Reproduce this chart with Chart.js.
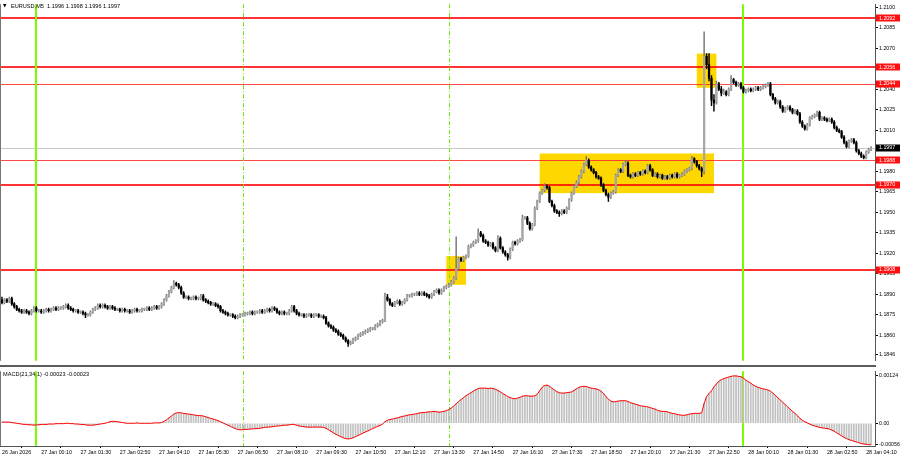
<!DOCTYPE html>
<html>
<head>
<meta charset="utf-8">
<script src="https://cdn.jsdelivr.net/npm/chart.js@4.4.1/dist/chart.umd.min.js"></script>
<style>
  html, body { margin: 0; padding: 0; background: #fff; }
  #wrap { position: relative; width: 900px; height: 460px; overflow: hidden; }
  #price { position: absolute; left: 0; top: 0; }
  #sep { position: absolute; left: 0; top: 365px; width: 876px; height: 2px; background: #5a5a5a; }
  #macd { position: absolute; left: 0; top: 367px; }
</style>
</head>
<body>
<div id="wrap">
  <canvas id="price" width="900" height="365"></canvas>
  <div id="sep"></div>
  <canvas id="macd" width="900" height="93"></canvas>
</div>
<script>
// EURUSD M5 candles (first candle 26 Jan 22:50)
const opens = [
1.1886,1.1884,1.1886,1.1885,1.1887,1.1883,1.1881,1.1879,1.1878,1.1877,
1.1878,1.1877,1.1876,1.1878,1.1880,1.1878,1.1878,1.1877,1.1878,1.1879,
1.1878,1.1879,1.1880,1.1879,1.1880,1.1880,1.1881,1.1882,1.1880,1.1879,
1.1878,1.1878,1.1877,1.1877,1.1876,1.1875,1.1875,1.1877,1.1879,1.1880,
1.1882,1.1881,1.1882,1.1881,1.1880,1.1881,1.1880,1.1879,1.1879,1.1878,
1.1879,1.1878,1.1878,1.1877,1.1878,1.1879,1.1878,1.1878,1.1879,1.1879,
1.1880,1.1879,1.1880,1.1881,1.1880,1.1881,1.1883,1.1886,1.1889,1.1892,
1.1895,1.1898,1.1897,1.1895,1.1891,1.1888,1.1888,1.1887,1.1887,1.1888,
1.1887,1.1887,1.1889,1.1886,1.1885,1.1884,1.1883,1.1883,1.1882,1.1881,
1.1878,1.1877,1.1876,1.1875,1.1875,1.1874,1.1873,1.1874,1.1875,1.1875,
1.1876,1.1876,1.1877,1.1876,1.1877,1.1877,1.1878,1.1877,1.1878,1.1879,
1.1878,1.1880,1.1879,1.1877,1.1876,1.1877,1.1876,1.1876,1.1878,1.1881,
1.1878,1.1876,1.1875,1.1875,1.1874,1.1875,1.1875,1.1874,1.1875,1.1875,
1.1874,1.1874,1.1873,1.1869,1.1867,1.1866,1.1864,1.1863,1.1861,1.1860,
1.1858,1.1856,1.1854,1.1855,1.1857,1.1858,1.1860,1.1861,1.1862,1.1863,
1.1864,1.1865,1.1865,1.1867,1.1868,1.1870,1.1871,1.1888,1.1886,1.1883,
1.1882,1.1884,1.1885,1.1883,1.1884,1.1886,1.1889,1.1889,1.1890,1.1890,
1.1891,1.1890,1.1891,1.1890,1.1889,1.1888,1.1890,1.1892,1.1893,1.1891,
1.1893,1.1895,1.1896,1.1897,1.1899,1.1902,1.1909,1.1916,1.1915,1.1917,
1.1918,1.1925,1.1926,1.1928,1.1929,1.1935,1.1933,1.1929,1.1928,1.1926,
1.1927,1.1924,1.1922,1.1931,1.1924,1.1921,1.1919,1.1917,1.1923,1.1928,
1.1927,1.1929,1.1930,1.1946,1.1946,1.1942,1.1938,1.1941,1.1953,1.1958,
1.1964,1.1966,1.1969,1.1968,1.1958,1.1955,1.1951,1.1950,1.1949,1.1951,
1.1950,1.1953,1.1959,1.1964,1.1969,1.1972,1.1976,1.1980,1.1985,1.1988,
1.1983,1.1981,1.1979,1.1976,1.1975,1.1970,1.1966,1.1963,1.1961,1.1964,
1.1965,1.1977,1.1981,1.1980,1.1985,1.1986,1.1977,1.1976,1.1978,1.1977,
1.1979,1.1978,1.1980,1.1979,1.1984,1.1981,1.1977,1.1978,1.1976,1.1977,
1.1975,1.1976,1.1975,1.1977,1.1976,1.1978,1.1976,1.1977,1.1978,1.1980,
1.1981,1.1982,1.1989,1.1987,1.1984,1.1982,1.1980,1.2064,1.2058,1.2048,
1.2032,1.2030,1.2044,1.2040,1.2037,1.2038,1.2036,1.2040,1.2047,1.2045,
1.2043,1.2044,1.2041,1.2038,1.2039,1.2040,1.2039,1.2040,1.2041,1.2040,
1.2041,1.2042,1.2043,1.2044,1.2036,1.2033,1.2030,1.2031,1.2027,1.2024,
1.2026,1.2027,1.2025,1.2023,1.2024,1.2022,1.2016,1.2013,1.2011,1.2014,
1.2019,1.2020,1.2021,1.2023,1.2018,1.2019,1.2018,1.2017,1.2018,1.2016,
1.2012,1.2010,1.2009,1.2005,1.2001,1.1998,1.2002,1.2003,1.2001,1.1995,
1.1993,1.1991,1.1990,1.1994,1.1996
];
const highs = [
1.1888,1.1887,1.1887,1.1888,1.1888,1.1884,1.1882,1.1880,1.1879,1.1879,
1.1879,1.1878,1.1879,1.1881,1.1881,1.1879,1.1879,1.1879,1.1880,1.1880,
1.1880,1.1881,1.1881,1.1881,1.1881,1.1882,1.1883,1.1883,1.1881,1.1880,
1.1879,1.1879,1.1878,1.1878,1.1877,1.1876,1.1878,1.1880,1.1881,1.1883,
1.1883,1.1883,1.1883,1.1882,1.1882,1.1882,1.1881,1.1880,1.1880,1.1880,
1.1880,1.1879,1.1879,1.1879,1.1880,1.1880,1.1879,1.1880,1.1880,1.1881,
1.1881,1.1881,1.1882,1.1882,1.1882,1.1884,1.1887,1.1890,1.1893,1.1896,
1.1900,1.1899,1.1898,1.1896,1.1892,1.1889,1.1889,1.1888,1.1889,1.1889,
1.1888,1.1890,1.1890,1.1887,1.1886,1.1885,1.1884,1.1884,1.1883,1.1882,
1.1879,1.1878,1.1877,1.1876,1.1876,1.1875,1.1875,1.1876,1.1876,1.1877,
1.1877,1.1878,1.1878,1.1878,1.1878,1.1879,1.1879,1.1879,1.1880,1.1880,
1.1881,1.1881,1.1880,1.1878,1.1878,1.1878,1.1877,1.1879,1.1882,1.1882,
1.1879,1.1877,1.1876,1.1876,1.1876,1.1876,1.1876,1.1876,1.1876,1.1876,
1.1875,1.1875,1.1874,1.1870,1.1868,1.1867,1.1865,1.1864,1.1862,1.1861,
1.1859,1.1857,1.1856,1.1858,1.1859,1.1861,1.1862,1.1863,1.1864,1.1865,
1.1866,1.1866,1.1868,1.1869,1.1871,1.1872,1.1891,1.1890,1.1887,1.1884,
1.1885,1.1886,1.1886,1.1885,1.1887,1.1890,1.1890,1.1891,1.1891,1.1892,
1.1892,1.1892,1.1892,1.1891,1.1890,1.1891,1.1893,1.1894,1.1894,1.1894,
1.1896,1.1897,1.1898,1.1900,1.1903,1.1932,1.1917,1.1917,1.1918,1.1919,
1.1926,1.1927,1.1929,1.1930,1.1938,1.1936,1.1934,1.1930,1.1929,1.1928,
1.1928,1.1925,1.1933,1.1932,1.1925,1.1922,1.1920,1.1924,1.1929,1.1929,
1.1930,1.1931,1.1948,1.1947,1.1947,1.1943,1.1942,1.1954,1.1959,1.1965,
1.1967,1.1971,1.1970,1.1969,1.1959,1.1956,1.1952,1.1951,1.1952,1.1952,
1.1954,1.1960,1.1965,1.1970,1.1973,1.1977,1.1981,1.1986,1.1991,1.1989,
1.1984,1.1982,1.1980,1.1977,1.1976,1.1971,1.1967,1.1964,1.1965,1.1966,
1.1978,1.1982,1.1982,1.1986,1.1988,1.1987,1.1978,1.1979,1.1979,1.1980,
1.1980,1.1981,1.1981,1.1985,1.1985,1.1982,1.1979,1.1979,1.1978,1.1978,
1.1977,1.1977,1.1978,1.1978,1.1979,1.1979,1.1978,1.1979,1.1981,1.1982,
1.1983,1.1991,1.1990,1.1988,1.1985,1.1983,1.2082,1.2066,1.2066,1.2050,
1.2036,1.2046,1.2045,1.2042,1.2040,1.2039,1.2041,1.2050,1.2048,1.2046,
1.2045,1.2045,1.2042,1.2040,1.2041,1.2041,1.2041,1.2042,1.2042,1.2042,
1.2043,1.2044,1.2045,1.2045,1.2037,1.2034,1.2032,1.2032,1.2028,1.2027,
1.2028,1.2028,1.2026,1.2025,1.2025,1.2023,1.2017,1.2014,1.2015,1.2020,
1.2021,1.2022,1.2024,1.2024,1.2020,1.2020,1.2019,1.2019,1.2019,1.2017,
1.2013,1.2011,1.2010,1.2006,1.2002,1.2003,1.2004,1.2004,1.2002,1.1996,
1.1994,1.1992,1.1995,1.1997,1.1998
];
const lows = [
1.1883,1.1883,1.1884,1.1884,1.1882,1.1880,1.1878,1.1877,1.1876,1.1876,
1.1876,1.1875,1.1875,1.1877,1.1877,1.1877,1.1876,1.1876,1.1877,1.1877,
1.1877,1.1878,1.1878,1.1878,1.1879,1.1879,1.1880,1.1879,1.1878,1.1877,
1.1877,1.1876,1.1876,1.1875,1.1873,1.1874,1.1874,1.1876,1.1878,1.1879,
1.1880,1.1880,1.1880,1.1879,1.1879,1.1879,1.1878,1.1878,1.1877,1.1877,
1.1877,1.1877,1.1876,1.1876,1.1877,1.1877,1.1877,1.1877,1.1878,1.1878,
1.1878,1.1878,1.1879,1.1879,1.1879,1.1880,1.1882,1.1885,1.1888,1.1891,
1.1894,1.1896,1.1894,1.1890,1.1887,1.1887,1.1886,1.1886,1.1886,1.1886,
1.1886,1.1886,1.1885,1.1884,1.1883,1.1882,1.1882,1.1881,1.1880,1.1877,
1.1876,1.1875,1.1874,1.1874,1.1873,1.1872,1.1872,1.1873,1.1874,1.1874,
1.1875,1.1875,1.1875,1.1875,1.1876,1.1876,1.1876,1.1876,1.1877,1.1877,
1.1877,1.1878,1.1876,1.1875,1.1875,1.1875,1.1875,1.1875,1.1877,1.1877,
1.1875,1.1874,1.1874,1.1873,1.1873,1.1874,1.1873,1.1873,1.1874,1.1873,
1.1873,1.1872,1.1868,1.1866,1.1865,1.1863,1.1862,1.1860,1.1859,1.1857,
1.1855,1.1852,1.1853,1.1854,1.1856,1.1857,1.1859,1.1860,1.1861,1.1862,
1.1863,1.1864,1.1864,1.1866,1.1867,1.1869,1.1870,1.1885,1.1882,1.1881,
1.1881,1.1883,1.1882,1.1882,1.1883,1.1885,1.1888,1.1888,1.1889,1.1889,
1.1889,1.1889,1.1889,1.1888,1.1887,1.1887,1.1889,1.1891,1.1890,1.1890,
1.1892,1.1894,1.1895,1.1896,1.1898,1.1901,1.1908,1.1914,1.1914,1.1916,
1.1917,1.1924,1.1925,1.1927,1.1928,1.1932,1.1928,1.1927,1.1925,1.1925,
1.1923,1.1921,1.1921,1.1923,1.1920,1.1918,1.1915,1.1916,1.1922,1.1926,
1.1926,1.1928,1.1929,1.1945,1.1941,1.1937,1.1937,1.1940,1.1952,1.1957,
1.1963,1.1965,1.1967,1.1957,1.1954,1.1950,1.1949,1.1947,1.1948,1.1949,
1.1949,1.1952,1.1958,1.1963,1.1968,1.1971,1.1975,1.1979,1.1984,1.1982,
1.1980,1.1978,1.1975,1.1974,1.1969,1.1965,1.1962,1.1958,1.1960,1.1963,
1.1964,1.1976,1.1979,1.1979,1.1984,1.1976,1.1975,1.1975,1.1976,1.1976,
1.1977,1.1977,1.1978,1.1978,1.1980,1.1976,1.1976,1.1975,1.1975,1.1974,
1.1974,1.1974,1.1974,1.1975,1.1975,1.1975,1.1975,1.1976,1.1977,1.1979,
1.1980,1.1981,1.1986,1.1983,1.1981,1.1976,1.1978,1.2055,1.2046,1.2028,
1.2024,1.2029,1.2039,1.2035,1.2036,1.2035,1.2035,1.2039,1.2044,1.2042,
1.2042,1.2040,1.2037,1.2037,1.2038,1.2038,1.2038,1.2039,1.2039,1.2039,
1.2040,1.2041,1.2042,1.2035,1.2032,1.2029,1.2029,1.2026,1.2023,1.2023,
1.2025,1.2024,1.2022,1.2022,1.2021,1.2015,1.2012,1.2010,1.2010,1.2013,
1.2018,1.2019,1.2020,1.2017,1.2017,1.2017,1.2016,1.2016,1.2015,1.2011,
1.2009,1.2008,1.2004,1.2000,1.1997,1.1997,1.2001,1.2000,1.1994,1.1992,
1.1990,1.1989,1.1989,1.1993,1.1995
];
const closes = [
1.1884,1.1886,1.1885,1.1887,1.1883,1.1881,1.1879,1.1878,1.1877,1.1878,
1.1877,1.1876,1.1878,1.1880,1.1878,1.1878,1.1877,1.1878,1.1879,1.1878,
1.1879,1.1880,1.1879,1.1880,1.1880,1.1881,1.1882,1.1880,1.1879,1.1878,
1.1878,1.1877,1.1877,1.1876,1.1875,1.1875,1.1877,1.1879,1.1880,1.1882,
1.1881,1.1882,1.1881,1.1880,1.1881,1.1880,1.1879,1.1879,1.1878,1.1879,
1.1878,1.1878,1.1877,1.1878,1.1879,1.1878,1.1878,1.1879,1.1879,1.1880,
1.1879,1.1880,1.1881,1.1880,1.1881,1.1883,1.1886,1.1889,1.1892,1.1895,
1.1898,1.1897,1.1895,1.1891,1.1888,1.1888,1.1887,1.1887,1.1888,1.1887,
1.1887,1.1889,1.1886,1.1885,1.1884,1.1883,1.1883,1.1882,1.1881,1.1878,
1.1877,1.1876,1.1875,1.1875,1.1874,1.1873,1.1874,1.1875,1.1875,1.1876,
1.1876,1.1877,1.1876,1.1877,1.1877,1.1878,1.1877,1.1878,1.1879,1.1878,
1.1880,1.1879,1.1877,1.1876,1.1877,1.1876,1.1876,1.1878,1.1881,1.1878,
1.1876,1.1875,1.1875,1.1874,1.1875,1.1875,1.1874,1.1875,1.1875,1.1874,
1.1874,1.1873,1.1869,1.1867,1.1866,1.1864,1.1863,1.1861,1.1860,1.1858,
1.1856,1.1854,1.1855,1.1857,1.1858,1.1860,1.1861,1.1862,1.1863,1.1864,
1.1865,1.1865,1.1867,1.1868,1.1870,1.1871,1.1888,1.1886,1.1883,1.1882,
1.1884,1.1885,1.1883,1.1884,1.1886,1.1889,1.1889,1.1890,1.1890,1.1891,
1.1890,1.1891,1.1890,1.1889,1.1888,1.1890,1.1892,1.1893,1.1891,1.1893,
1.1895,1.1896,1.1897,1.1899,1.1902,1.1909,1.1916,1.1915,1.1917,1.1918,
1.1925,1.1926,1.1928,1.1929,1.1935,1.1933,1.1929,1.1928,1.1926,1.1927,
1.1924,1.1922,1.1931,1.1924,1.1921,1.1919,1.1917,1.1923,1.1928,1.1927,
1.1929,1.1930,1.1946,1.1946,1.1942,1.1938,1.1941,1.1953,1.1958,1.1964,
1.1966,1.1969,1.1968,1.1958,1.1955,1.1951,1.1950,1.1949,1.1951,1.1950,
1.1953,1.1959,1.1964,1.1969,1.1972,1.1976,1.1980,1.1985,1.1988,1.1983,
1.1981,1.1979,1.1976,1.1975,1.1970,1.1966,1.1963,1.1961,1.1964,1.1965,
1.1977,1.1981,1.1980,1.1985,1.1986,1.1977,1.1976,1.1978,1.1977,1.1979,
1.1978,1.1980,1.1979,1.1984,1.1981,1.1977,1.1978,1.1976,1.1977,1.1975,
1.1976,1.1975,1.1977,1.1976,1.1978,1.1976,1.1977,1.1978,1.1980,1.1981,
1.1982,1.1989,1.1987,1.1984,1.1982,1.1980,1.2064,1.2058,1.2048,1.2032,
1.2030,1.2044,1.2040,1.2037,1.2038,1.2036,1.2040,1.2047,1.2045,1.2043,
1.2044,1.2041,1.2038,1.2039,1.2040,1.2039,1.2040,1.2041,1.2040,1.2041,
1.2042,1.2043,1.2044,1.2036,1.2033,1.2030,1.2031,1.2027,1.2024,1.2026,
1.2027,1.2025,1.2023,1.2024,1.2022,1.2016,1.2013,1.2011,1.2014,1.2019,
1.2020,1.2021,1.2023,1.2018,1.2019,1.2018,1.2017,1.2018,1.2016,1.2012,
1.2010,1.2009,1.2005,1.2001,1.1998,1.2002,1.2003,1.2001,1.1995,1.1993,
1.1991,1.1990,1.1994,1.1996,1.1997
];

// MACD(21,34,1) main line, one value per candle
const macd = [
0.00003,0.00003,0.00003,0.00003,0.00002,0.00001,0,-0.00001,-0.00002,-0.00003,
-0.00003,-0.00004,-0.00004,-0.00005,-0.00004,-0.00004,-0.00003,-0.00003,-0.00003,-0.00002,
-0.00002,-0.00002,-0.00001,-0.00001,-0.00001,-0.00001,0,0,-0.00001,-0.00001,
-0.00002,-0.00002,-0.00003,-0.00003,-0.00004,-0.00005,-0.00005,-0.00005,-0.00004,-0.00003,
-0.00002,-0.00001,0,0.00002,0.00004,0.00005,0.00005,0.00004,0.00003,0.00002,
0.00001,0,0,0,0,0.00001,0,0,0,0,
0,0,0.00001,0.00001,0.00001,0.00002,0.00005,0.00009,0.00014,0.00019,
0.00024,0.00027,0.00028,0.00027,0.00026,0.00025,0.00024,0.00023,0.00022,0.00021,
0.00020,0.00020,0.00019,0.00017,0.00015,0.00013,0.00011,0.00009,0.00007,0.00004,
0.00001,-0.00002,-0.00005,-0.00008,-0.00011,-0.00014,-0.00016,-0.00017,-0.00017,-0.00016,
-0.00016,-0.00015,-0.00015,-0.00014,-0.00014,-0.00013,-0.00012,-0.00011,-0.00010,-0.00010,
-0.00009,-0.00008,-0.00007,-0.00007,-0.00006,-0.00005,-0.00005,-0.00004,-0.00003,-0.00003,
-0.00005,-0.00007,-0.00008,-0.00009,-0.00010,-0.00010,-0.00010,-0.00010,-0.00010,-0.00010,
-0.00010,-0.00011,-0.00013,-0.00017,-0.00021,-0.00025,-0.00029,-0.00032,-0.00035,-0.00038,
-0.00040,-0.00041,-0.00040,-0.00038,-0.00035,-0.00032,-0.00029,-0.00026,-0.00023,-0.00020,
-0.00017,-0.00014,-0.00011,-0.00008,-0.00006,-0.00002,0.00004,0.00008,0.00010,0.00011,
0.00013,0.00014,0.00016,0.00018,0.00019,0.00021,0.00022,0.00023,0.00024,0.00025,
0.00027,0.00028,0.00028,0.00029,0.00030,0.00030,0.00031,0.00030,0.00029,0.00030,
0.00031,0.00033,0.00036,0.00040,0.00045,0.00051,0.00057,0.00062,0.00067,0.00072,
0.00076,0.00080,0.00084,0.00088,0.00091,0.00092,0.00092,0.00092,0.00091,0.00092,
0.00091,0.00089,0.00086,0.00082,0.00078,0.00074,0.00070,0.00067,0.00065,0.00064,
0.00066,0.00068,0.00071,0.00072,0.00072,0.00071,0.00071,0.00072,0.00076,0.00085,
0.00094,0.00099,0.00100,0.00097,0.00092,0.00087,0.00083,0.00080,0.00079,0.00079,
0.00080,0.00081,0.00082,0.00086,0.00090,0.00094,0.00096,0.00097,0.00096,0.00094,
0.00092,0.00091,0.00090,0.00088,0.00084,0.00078,0.00070,0.00063,0.00058,0.00056,
0.00057,0.00058,0.00059,0.00059,0.00059,0.00057,0.00054,0.00052,0.00050,0.00048,
0.00046,0.00045,0.00044,0.00043,0.00041,0.00039,0.00037,0.00034,0.00032,0.00031,
0.00031,0.00030,0.00028,0.00026,0.00025,0.00023,0.00022,0.00021,0.00021,0.00022,
0.00024,0.00025,0.00026,0.00026,0.00026,0.00027,0.00052,0.00070,0.00078,0.00085,
0.00095,0.00103,0.00110,0.00114,0.00117,0.00119,0.00121,0.00123,0.00124,0.00124,
0.00123,0.00122,0.00118,0.00113,0.00109,0.00105,0.00100,0.00097,0.00094,0.00092,
0.00090,0.00089,0.00087,0.00084,0.00079,0.00073,0.00067,0.00061,0.00055,0.00049,
0.00043,0.00037,0.00031,0.00026,0.00020,0.00013,0.00008,0.00004,0.00001,-0.00002,
-0.00005,-0.00007,-0.00009,-0.00011,-0.00012,-0.00013,-0.00014,-0.00015,-0.00018,-0.00021,
-0.00025,-0.00029,-0.00033,-0.00037,-0.00040,-0.00043,-0.00045,-0.00047,-0.00049,-0.00051,
-0.00053,-0.00054,-0.00055,-0.00056,-0.00056
];

// time axis
const timeTickIdx = [0,16,32,48,64,80,96,112,128,144,160,176,192,208,224,240,256,272,288,304,320,336,352];
const timeLabels = ['26 Jan 2026','27 Jan 00:10','27 Jan 01:30','27 Jan 02:50','27 Jan 04:10','27 Jan 05:30',
  '27 Jan 06:50','27 Jan 08:10','27 Jan 09:30','27 Jan 10:50','27 Jan 12:10','27 Jan 13:30','27 Jan 14:50',
  '27 Jan 16:10','27 Jan 17:30','27 Jan 18:50','27 Jan 20:10','27 Jan 21:30','27 Jan 22:50','28 Jan 00:10',
  '28 Jan 01:30','28 Jan 02:50','28 Jan 04:10'];

// price axis
const priceTicks = [1.2100,1.2085,1.2070,1.2040,1.2025,1.2010,1.1980,1.1965,1.1950,1.1935,1.1920,1.1905,1.1890,1.1875,1.1860,1.1846];
const macdTicks = [0.00124, 0, -0.00056];
const macdTickLabels = ['0.00124', '0.00', '-0.00056'];

// objects on the chart
const levels = [1.2092, 1.2056, 1.2044, 1.1988, 1.1970, 1.1908];
const levelWidth = [2, 2, 1, 1, 2, 2];
const boxFrom = [181, 219, 283];
const boxTo = [189, 290, 291];
const boxTop = [1.1918, 1.1993, 1.2066];
const boxBottom = [1.1897, 1.1964, 1.2041];
const vlineIdx = [14, 98, 182, 302];
const vlineDashed = [false, true, true, false];
const lastBar = ['1.1996', '1.1998', '1.1996', '1.1997'];
const bidPrice = 1.1997;

const FONT = '"Liberation Sans", Arial, sans-serif';
const FS = 5.3;
Chart.defaults.font.family = FONT;
Chart.defaults.font.size = FS;
Chart.defaults.color = '#000';

const xRange = { type: 'linear', min: -0.81, max: 355.6, offset: false };

function drawVLines(chart) {
  const { ctx, chartArea: a, scales: { x } } = chart;
  ctx.save();
  vlineIdx.forEach((v, k) => {
    const px = Math.round(x.getPixelForValue(v));
    ctx.beginPath();
    if (vlineDashed[k]) {
      ctx.strokeStyle = '#66ee00';
      ctx.lineWidth = 1;
      ctx.setLineDash([4, 2, 1, 2]);
      ctx.moveTo(px + 0.5, a.top); ctx.lineTo(px + 0.5, a.bottom);
    } else {
      ctx.strokeStyle = '#7cfc00';
      ctx.lineWidth = 2;
      ctx.setLineDash([]);
      ctx.moveTo(px, a.top); ctx.lineTo(px, a.bottom);
    }
    ctx.stroke();
  });
  ctx.restore();
}

function leftBorder(chart) {
  const { ctx, chartArea: a } = chart;
  ctx.save();
  ctx.strokeStyle = '#777';
  ctx.lineWidth = 1;
  ctx.beginPath(); ctx.moveTo(0.5, a.top); ctx.lineTo(0.5, a.bottom); ctx.stroke();
  ctx.restore();
}

function axisTag(ctx, yPix, text, bg) {
  ctx.fillStyle = bg;
  ctx.fillRect(876, Math.round(yPix) - 3.5, 24, 7);
  ctx.fillStyle = '#fff';
  ctx.textAlign = 'left';
  ctx.textBaseline = 'middle';
  ctx.fillText(text, 879, yPix);
}

const priceOverlay = {
  id: 'priceOverlay',
  beforeDatasetsDraw(chart) {
    const { ctx, chartArea: a, scales: { x, y } } = chart;
    ctx.save();
    // rectangles
    ctx.fillStyle = '#ffd700';
    for (let k = 0; k < boxFrom.length; k++) {
      const x1 = x.getPixelForValue(boxFrom[k]);
      const x2 = x.getPixelForValue(boxTo[k]);
      const y1 = y.getPixelForValue(boxTop[k]);
      const y2 = y.getPixelForValue(boxBottom[k]);
      ctx.fillRect(x1, y1, x2 - x1, y2 - y1);
    }
    // bid line
    const by = Math.round(y.getPixelForValue(bidPrice)) + 0.5;
    ctx.strokeStyle = '#c8c8c8';
    ctx.lineWidth = 1;
    ctx.beginPath(); ctx.moveTo(a.left, by); ctx.lineTo(a.right, by); ctx.stroke();
    // horizontal levels
    levels.forEach((v, k) => {
      const w = levelWidth[k];
      const ly = Math.round(y.getPixelForValue(v)) + (w === 1 ? 0.5 : 0);
      ctx.strokeStyle = w === 1 ? 'rgba(255,40,40,0.85)' : 'rgba(255,0,0,0.8)';
      ctx.lineWidth = w;
      ctx.beginPath(); ctx.moveTo(a.left, ly); ctx.lineTo(a.right, ly); ctx.stroke();
    });
    ctx.restore();
    drawVLines(chart);
  },
  afterDraw(chart) {
    const { ctx, scales: { y } } = chart;
    ctx.save();
    ctx.font = FS + 'px ' + FONT;
    levels.forEach(v => axisTag(ctx, y.getPixelForValue(v), v.toFixed(4), '#ff1010'));
    axisTag(ctx, y.getPixelForValue(bidPrice), bidPrice.toFixed(4), '#000');
    // header
    ctx.fillStyle = '#000';
    ctx.textAlign = 'left';
    ctx.textBaseline = 'middle';
    ctx.font = '4.5px "DejaVu Sans", sans-serif';
    ctx.fillText('\u25BC', 3, 6);
    ctx.font = '5.6px ' + FONT;
    ctx.fillText('EURUSD,M5  ' + lastBar.join(' '), 11, 6);
    ctx.restore();
    leftBorder(chart);
  }
};

const macdOverlay = {
  id: 'macdOverlay',
  beforeDatasetsDraw(chart) { drawVLines(chart); },
  afterDraw(chart) {
    const { ctx } = chart;
    ctx.save();
    ctx.fillStyle = '#000';
    ctx.textAlign = 'left';
    ctx.textBaseline = 'middle';
    ctx.font = '5.6px ' + FONT;
    ctx.fillText('MACD(21,34,1) -0.00023 -0.00023', 3, 7);
    ctx.restore();
    leftBorder(chart);
  }
};

const idx = closes.map((_, i) => i);
const candleColor = idx.map(i => closes[i] >= opens[i] ? '#a6a6a6' : '#000000');
const wickColor = idx.map(i => closes[i] >= opens[i] ? '#777777' : '#000000');

new Chart(document.getElementById('price'), {
  type: 'bar',
  data: {
    datasets: [
      {
        data: idx.map(i => ({ x: i, y: [opens[i], closes[i]] })),
        backgroundColor: candleColor,
        barThickness: 1.6,
        minBarLength: 1,
        grouped: false,
        borderWidth: 0
      },
      {
        data: idx.map(i => ({ x: i, y: [lows[i], highs[i]] })),
        backgroundColor: wickColor,
        barThickness: 0.8,
        grouped: false,
        borderWidth: 0
      }
    ]
  },
  options: {
    responsive: false,
    animation: false,
    layout: { padding: 0 },
    plugins: { legend: { display: false }, tooltip: { enabled: false } },
    scales: {
      x: Object.assign({}, xRange, { display: false }),
      y: {
        position: 'right',
        min: 1.184143,
        max: 1.210214,
        afterFit(scale) { scale.width = 25; },
        afterBuildTicks(scale) { scale.ticks = priceTicks.map(v => ({ value: v })); },
        ticks: { autoSkip: false, padding: 1, callback: v => v.toFixed(4), color: '#000' },
        grid: { drawOnChartArea: false, tickLength: 3, tickColor: '#000' },
        border: { display: true, color: '#555', width: 1 }
      }
    }
  },
  plugins: [priceOverlay]
});

new Chart(document.getElementById('macd'), {
  type: 'bar',
  data: {
    datasets: [
      {
        type: 'line',
        data: idx.map(i => ({ x: i, y: macd[i] })),
        borderColor: '#ff0000',
        borderWidth: 1,
        pointRadius: 0,
        tension: 0,
        order: 0
      },
      {
        data: idx.map(i => ({ x: i, y: macd[i] })),
        backgroundColor: '#c0c0c0',
        barThickness: 1,
        grouped: false,
        borderWidth: 0,
        order: 1
      }
    ]
  },
  options: {
    responsive: false,
    animation: false,
    layout: { padding: 0 },
    plugins: { legend: { display: false }, tooltip: { enabled: false } },
    scales: {
      x: Object.assign({}, xRange, {
        afterFit(scale) { scale.height = 14; },
        afterBuildTicks(scale) { scale.ticks = timeTickIdx.map(v => ({ value: v })); },
        ticks: {
          autoSkip: false, maxRotation: 0, align: 'start', padding: 1, color: '#000',
          callback: v => timeLabels[timeTickIdx.indexOf(v)]
        },
        grid: { drawOnChartArea: false, tickLength: 2, tickColor: '#000' },
        border: { display: true, color: '#555', width: 1 }
      }),
      y: {
        position: 'right',
        min: -0.000595,
        max: 0.001364,
        afterFit(scale) { scale.width = 25; },
        afterBuildTicks(scale) { scale.ticks = macdTicks.map(v => ({ value: v })); },
        ticks: { autoSkip: false, padding: 1, color: '#000', callback: v => macdTickLabels[macdTicks.indexOf(v)] },
        grid: { drawOnChartArea: false, tickLength: 3, tickColor: '#000' },
        border: { display: true, color: '#555', width: 1 }
      }
    }
  },
  plugins: [macdOverlay]
});
</script>
</body>
</html>
